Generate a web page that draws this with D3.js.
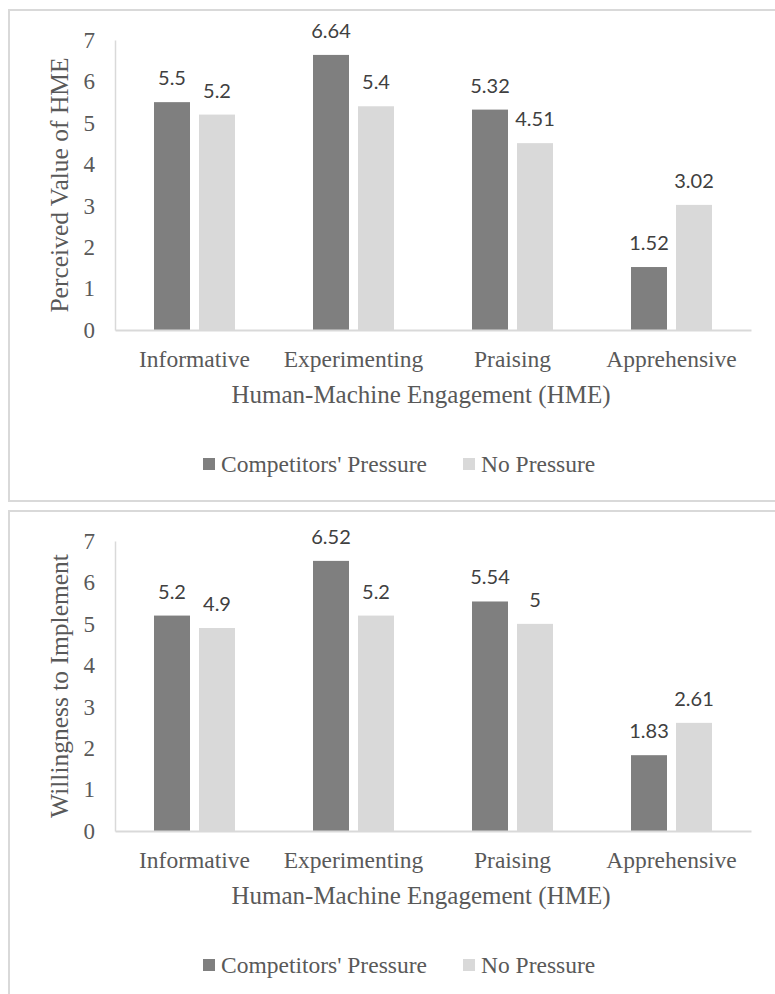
<!DOCTYPE html>
<html>
<head>
<meta charset="utf-8">
<script src="https://cdn.jsdelivr.net/npm/d3@7"></script>
<style>
  body { margin: 0; background: #fff; }
  .tick text { font-family: "Liberation Serif", "Times New Roman", serif; fill: #595959; }
</style>
</head>
<body>
<div id="chart"></div>
<script>
(function(){

  // data
  var categories = ["Informative", "Experimenting", "Praising", "Apprehensive"]
  var seriesNames = ["Competitors' Pressure", "No Pressure"]
  var valueCompetitors = [5.5, 6.64, 5.32, 1.52]
  var valueNoPressure = [5.2, 5.4, 4.51, 3.02]
  var willCompetitors = [5.2, 6.52, 5.54, 1.83]
  var willNoPressure = [4.9, 5.2, 5, 2.61]
  var yTicks = [0, 1, 2, 3, 4, 5, 6, 7]

  var panels = [
    { title: "Perceived Value of HME", values: [valueCompetitors, valueNoPressure], top: 0 },
    { title: "Willingness to Implement", values: [willCompetitors, willNoPressure], top: 501 }
  ]

  var colors = ["#7f7f7f", "#d9d9d9"]

  var svg = d3.select("#chart").append("svg")
      .attr("width", 775)
      .attr("height", 994)

  var x0 = d3.scaleBand().domain(categories).range([115, 751])
  var half = x0.bandwidth() / 2
  var x1 = d3.scaleBand().domain(seriesNames)
      .range([half - 40.5, half + 40.5])
      .paddingInner(0.2)
  var y = d3.scaleLinear().domain([0, 7]).range([330, 40])

  panels.forEach(function(p){
    var g = svg.append("g").attr("transform", "translate(0," + p.top + ")")

    // frame of the chart
    g.append("rect")
      .attr("x", 9).attr("y", 10)
      .attr("width", 820).attr("height", p.top ? 600 : 491)
      .attr("fill", "none")
      .attr("stroke", "#d9d9d9")
      .attr("stroke-width", 2)

    var rows = categories.map(function(c, i){
      return { cat: c, vals: seriesNames.map(function(s, j){ return { s: s, v: p.values[j][i] } }) }
    })

    var groups = g.selectAll(".cat")
      .data(rows)
      .enter().append("g")
      .attr("class", "cat")
      .attr("transform", function(d){ return "translate(" + x0(d.cat) + ",0)" })

    groups.selectAll("rect")
      .data(function(d){ return d.vals })
      .enter().append("rect")
      .attr("x", function(d){ return x1(d.s) })
      .attr("width", x1.bandwidth())
      .attr("y", function(d){ return y(d.v) })
      .attr("height", function(d){ return y(0) - y(d.v) })
      .attr("fill", function(d, j){ return colors[j] })

    groups.selectAll(".lbl")
      .data(function(d){ return d.vals })
      .enter().append("text")
      .attr("class", "lbl")
      .attr("x", function(d){ return x1(d.s) + x1.bandwidth() / 2 })
      .attr("y", function(d){ return y(d.v) - 17 })
      .attr("text-anchor", "middle")
      .style("font-family", "Lato, 'Open Sans', sans-serif")
      .style("font-size", "20px")
      .style("fill", "#404040")
      .text(function(d){ return String(d.v) })

    // y axis
    var ya = g.append("g")
      .attr("transform", "translate(115,0)")
      .call(d3.axisLeft(y).tickValues(yTicks).tickFormat(d3.format("d")).tickSize(0).tickPadding(20))
    ya.select(".domain").attr("stroke", "#d9d9d9").attr("stroke-width", 1.5)
    ya.selectAll(".tick text").style("font-size", "23px")

    // x axis
    var xa = g.append("g")
      .attr("transform", "translate(0,330)")
      .call(d3.axisBottom(x0).tickSize(0).tickPadding(20))
    xa.select(".domain").attr("stroke", "#d9d9d9").attr("stroke-width", 2)
    xa.selectAll(".tick text").style("font-size", "23.5px")

    g.append("text")
      .attr("x", 421).attr("y", 403)
      .attr("text-anchor", "middle")
      .style("font-family", "'Liberation Serif', serif")
      .style("font-size", "25px")
      .style("fill", "#595959")
      .text("Human-Machine Engagement (HME)")

    g.append("text")
      .attr("transform", "translate(68,185) rotate(-90)")
      .attr("text-anchor", "middle")
      .style("font-family", "'Liberation Serif', serif")
      .style("font-size", "25.5px")
      .style("fill", "#595959")
      .text(p.title)

    // legend
    var legX = [203, 463]
    var leg = g.selectAll(".leg")
      .data(seriesNames)
      .enter().append("g")
      .attr("class", "leg")
      .attr("transform", function(d, i){ return "translate(" + legX[i] + ",458)" })
    leg.append("rect")
      .attr("width", 12).attr("height", 12)
      .attr("fill", function(d, i){ return colors[i] })
    leg.append("text")
      .attr("x", 18).attr("y", 14)
      .style("font-family", "'Liberation Serif', serif")
      .style("font-size", "23.5px")
      .style("fill", "#595959")
      .text(function(d){ return d })
  })

})()
</script>
</body>
</html>
